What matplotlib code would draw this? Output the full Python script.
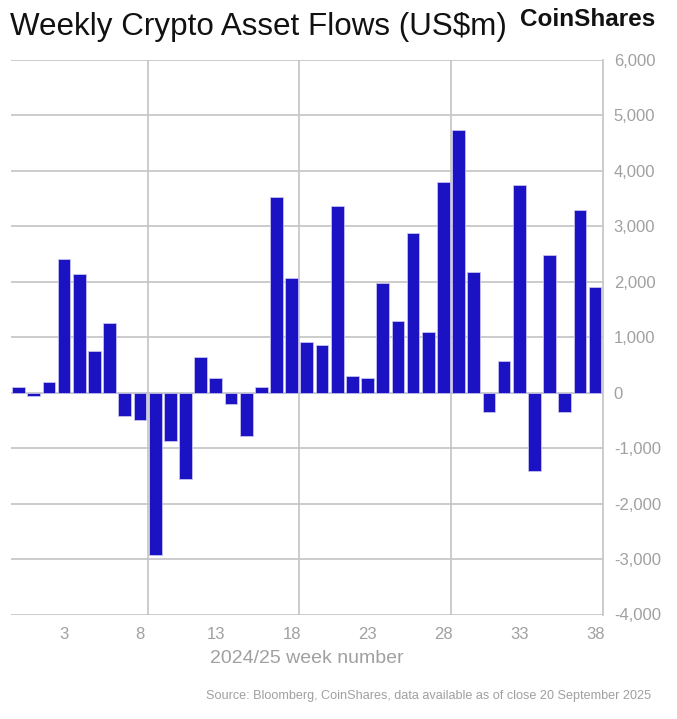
import matplotlib
matplotlib.use("Agg")
import matplotlib.pyplot as plt
from matplotlib.ticker import FuncFormatter, FixedLocator

plt.rcParams['font.family'] = ['Liberation Sans', 'DejaVu Sans']

# Data
weeks = list(range(0, 39))
flows = [108, -60, 187, 2404, 2145, 744, 1249, -414, -486, -2933, -870, -1565,
         641, 274, -198, -780, 94, 3523, 2067, 912, 852, 3361, 310, 267, 1977,
         1285, 2874, 1092, 3794, 4738, 2181, -348, 569, 3745, -1421, 2482, -354,
         3300, 1910]
xtick_weeks = [3, 8, 13, 18, 23, 28, 33, 38]
vgrid_positions = [8.5, 18.5, 28.5]
yticks = [-4000, -3000, -2000, -1000, 0, 1000, 2000, 3000, 4000, 5000, 6000]

title = "Weekly Crypto Asset Flows (US$m)"
brand = "CoinShares"
xlabel = "2024/25 week number"
source = "Source: Bloomberg, CoinShares, data available as of close 20 September 2025"

W, H = 677, 719
fig = plt.figure(figsize=(W / 100, H / 100), dpi=100)
ax = fig.add_axes([11 / W, 1 - 614.5 / H, (602.7 - 11) / W, (614.5 - 60) / H])

grid_c = '#C4C4C4'
text_c = '#A0A0A0'
bar_c = '#1B13C3'

ax.bar(weeks, flows, width=0.84, color=bar_c, edgecolor='#CFCDF2',
       linewidth=0.5, zorder=3)

ax.set_xlim(-0.5, 38.5)
ax.set_ylim(-4000, 6000)

for y in yticks:
    ax.axhline(y, color=grid_c, linewidth=1.2, zorder=1)
for xv in vgrid_positions:
    ax.axvline(xv, color=grid_c, linewidth=1.2, zorder=1)

for s in ['top', 'left', 'bottom']:
    ax.spines[s].set_visible(False)
ax.spines['right'].set_color(grid_c)
ax.spines['right'].set_linewidth(1.2)

ax.yaxis.tick_right()
ax.set_yticks(yticks)
ax.yaxis.set_major_formatter(FuncFormatter(lambda v, p: f"{int(v):,}"))
ax.xaxis.set_major_locator(FixedLocator(xtick_weeks))
ax.set_xticklabels([str(w) for w in xtick_weeks])
ax.tick_params(axis='both', length=0, labelsize=12, labelcolor=text_c)
ax.tick_params(axis='y', pad=8)
ax.tick_params(axis='x', pad=9)

ax.set_xlabel(xlabel, fontsize=14, color=text_c, labelpad=6)

fig.text(10 / W, 1 - 27 / H, title, fontsize=22.6, color='#111111',
         ha='left', va='center')
fig.text(655 / W, 1 - 20 / H, brand, fontsize=17.5, fontweight='bold',
         color='#111111', ha='right', va='center')
fig.text(651 / W, 1 - 696 / H, source, fontsize=9.1, color=text_c,
         ha='right', va='center')

fig.savefig("out.png", dpi=100, facecolor='white')
